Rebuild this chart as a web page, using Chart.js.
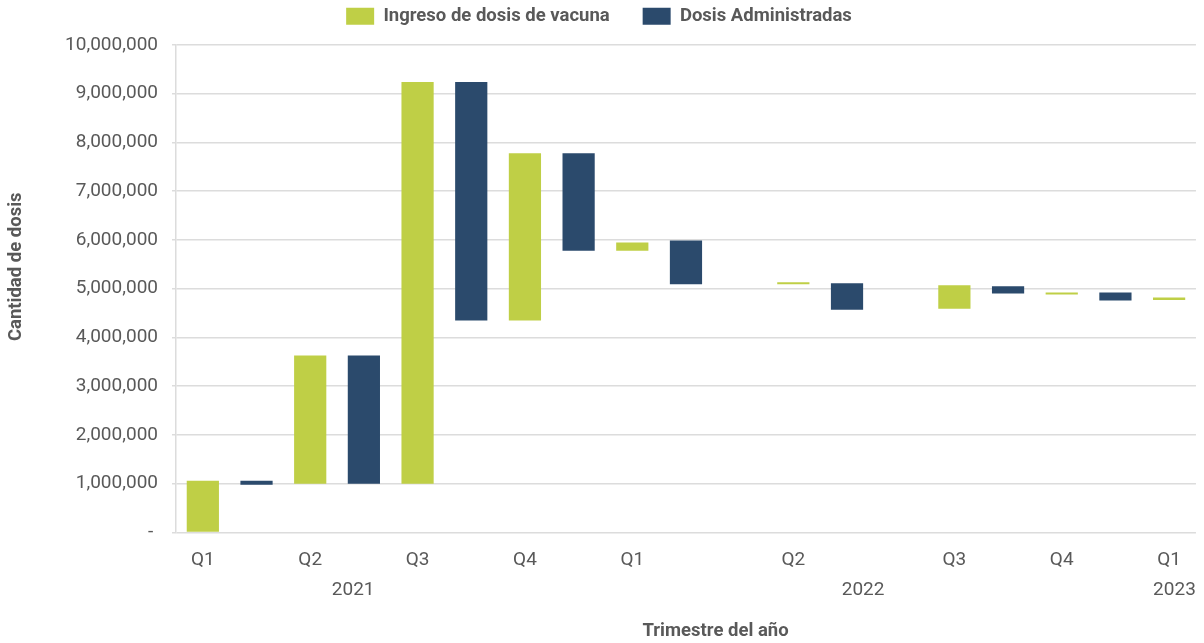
<!DOCTYPE html>
<html lang="es">
<head>
<meta charset="utf-8">
<title>Ingreso y administración de dosis de vacuna</title>
<script src="https://cdn.jsdelivr.net/npm/chart.js@4.4.1/dist/chart.umd.min.js"></script>
<style>
    body { margin: 0; background: #fff; }
    #wrap { width: 1204px; height: 643px; }
</style>
</head>
<body>
<div id="wrap">
    <canvas id="dosisChart" width="1204" height="643"></canvas>
</div>
<script>
// Trimestres (una posición por barra; las vacías no llevan etiqueta)
const trimestres = ['Q1', '', 'Q2', '', 'Q3', '', 'Q4', '', 'Q1', '', '', 'Q2', '', '', 'Q3', '', 'Q4', '', 'Q1'];

// Años y su posición sobre el eje de trimestres
const anios = ['2021', '2022', '2023'];
const posicionAnios = [2.8, 12.3, 18.1];

// Ingreso de dosis: desde / hasta
const ingresoDesde = [0, null, 1000000, null, 1000000, null, 4350000, null, 5780000, null, null, 5090000, null, null, 4590000, null, 4880000, null, 4770000];
const ingresoHasta = [1060000, null, 3630000, null, 9240000, null, 7780000, null, 5950000, null, null, 5130000, null, null, 5070000, null, 4920000, null, 4820000];

// Dosis administradas: desde / hasta
const administradasDesde = [null, 980000, null, 1000000, null, 4350000, null, 5780000, null, 5090000, null, null, 4570000, null, null, 4900000, null, 4760000, null];
const administradasHasta = [null, 1060000, null, 3630000, null, 9240000, null, 7780000, null, 5990000, null, null, 5110000, null, null, 5050000, null, 4920000, null];

const textColor = '#595959';
const gridColor = '#dcdcdc';

const tramo = (desde, hasta) => desde.map((d, i) => d === null ? null : [d, hasta[i]]);

// deja aire entre la leyenda y el área del gráfico
const margenLeyenda = {
    id: 'margenLeyenda',
    beforeInit(chart) {
        const fitOriginal = chart.legend.fit;
        chart.legend.fit = function () {
            fitOriginal.bind(chart.legend)();
            this.height += 9.5;
        };
    }
};

// títulos de los ejes
const titulosEjes = {
    id: 'titulosEjes',
    afterDraw(chart) {
        const { ctx, chartArea } = chart;
        ctx.save();
        ctx.fillStyle = textColor;
        ctx.font = 'bold 18.5px Roboto';
        ctx.textAlign = 'center';
        ctx.textBaseline = 'middle';
        ctx.fillText('Trimestre del año', chartArea.left + chartArea.width * 0.529, chart.height - 12);
        ctx.translate(16, chartArea.top + chartArea.height * 0.455);
        ctx.rotate(-Math.PI / 2);
        ctx.fillText('Cantidad de dosis', 0, 0);
        ctx.restore();
    }
};

Chart.defaults.font.family = 'Roboto';
Chart.defaults.color = textColor;

new Chart(document.getElementById('dosisChart'), {
    type: 'bar',
    data: {
        labels: trimestres,
        datasets: [
            {
                label: 'Ingreso de dosis de vacuna',
                data: tramo(ingresoDesde, ingresoHasta),
                backgroundColor: '#bfcf46',
                grouped: false,
                barPercentage: 0.6,
                categoryPercentage: 1
            },
            {
                label: 'Dosis Administradas',
                data: tramo(administradasDesde, administradasHasta),
                backgroundColor: '#2b4a6c',
                grouped: false,
                barPercentage: 0.6,
                categoryPercentage: 1
            }
        ]
    },
    options: {
        responsive: false,
        animation: false,
        layout: {
            padding: { left: 0, right: 6, top: -26, bottom: 33 }
        },
        plugins: {
            legend: {
                position: 'top',
                labels: {
                    boxWidth: 28,
                    boxHeight: 17,
                    padding: 33,
                    color: textColor,
                    font: { size: 18.5, weight: 'bold' }
                }
            },
            tooltip: { enabled: false }
        },
        scales: {
            x: {
                weight: 0,
                grid: { display: false, drawTicks: false },
                border: { display: false },
                afterFit: axis => { axis.height -= 16; },
                ticks: {
                    padding: 16,
                    autoSkip: false,
                    maxRotation: 0,
                    font: { size: 19 }
                }
            },
            x2: {
                type: 'linear',
                position: 'bottom',
                weight: 1,
                offset: false,
                min: -0.5,
                max: 18.5,
                afterBuildTicks: axis => {
                    axis.ticks = posicionAnios.map(v => ({ value: v }));
                },
                grid: { display: false, drawTicks: false },
                border: { display: false },
                ticks: {
                    padding: 8,
                    autoSkip: false,
                    maxRotation: 0,
                    font: { size: 19 },
                    callback: (v, i) => anios[i]
                }
            },
            y: {
                min: 0,
                max: 10000000,
                afterFit: axis => { axis.width = 176; },
                grid: { color: gridColor, lineWidth: 1.5, tickLength: 4 },
                border: { color: gridColor, width: 1.5 },
                ticks: {
                    stepSize: 1000000,
                    padding: 14,
                    font: { size: 19 },
                    callback: v => v === 0 ? '- ' : v.toLocaleString('en-US')
                }
            }
        }
    },
    plugins: [margenLeyenda, titulosEjes]
});
</script>
</body>
</html>
